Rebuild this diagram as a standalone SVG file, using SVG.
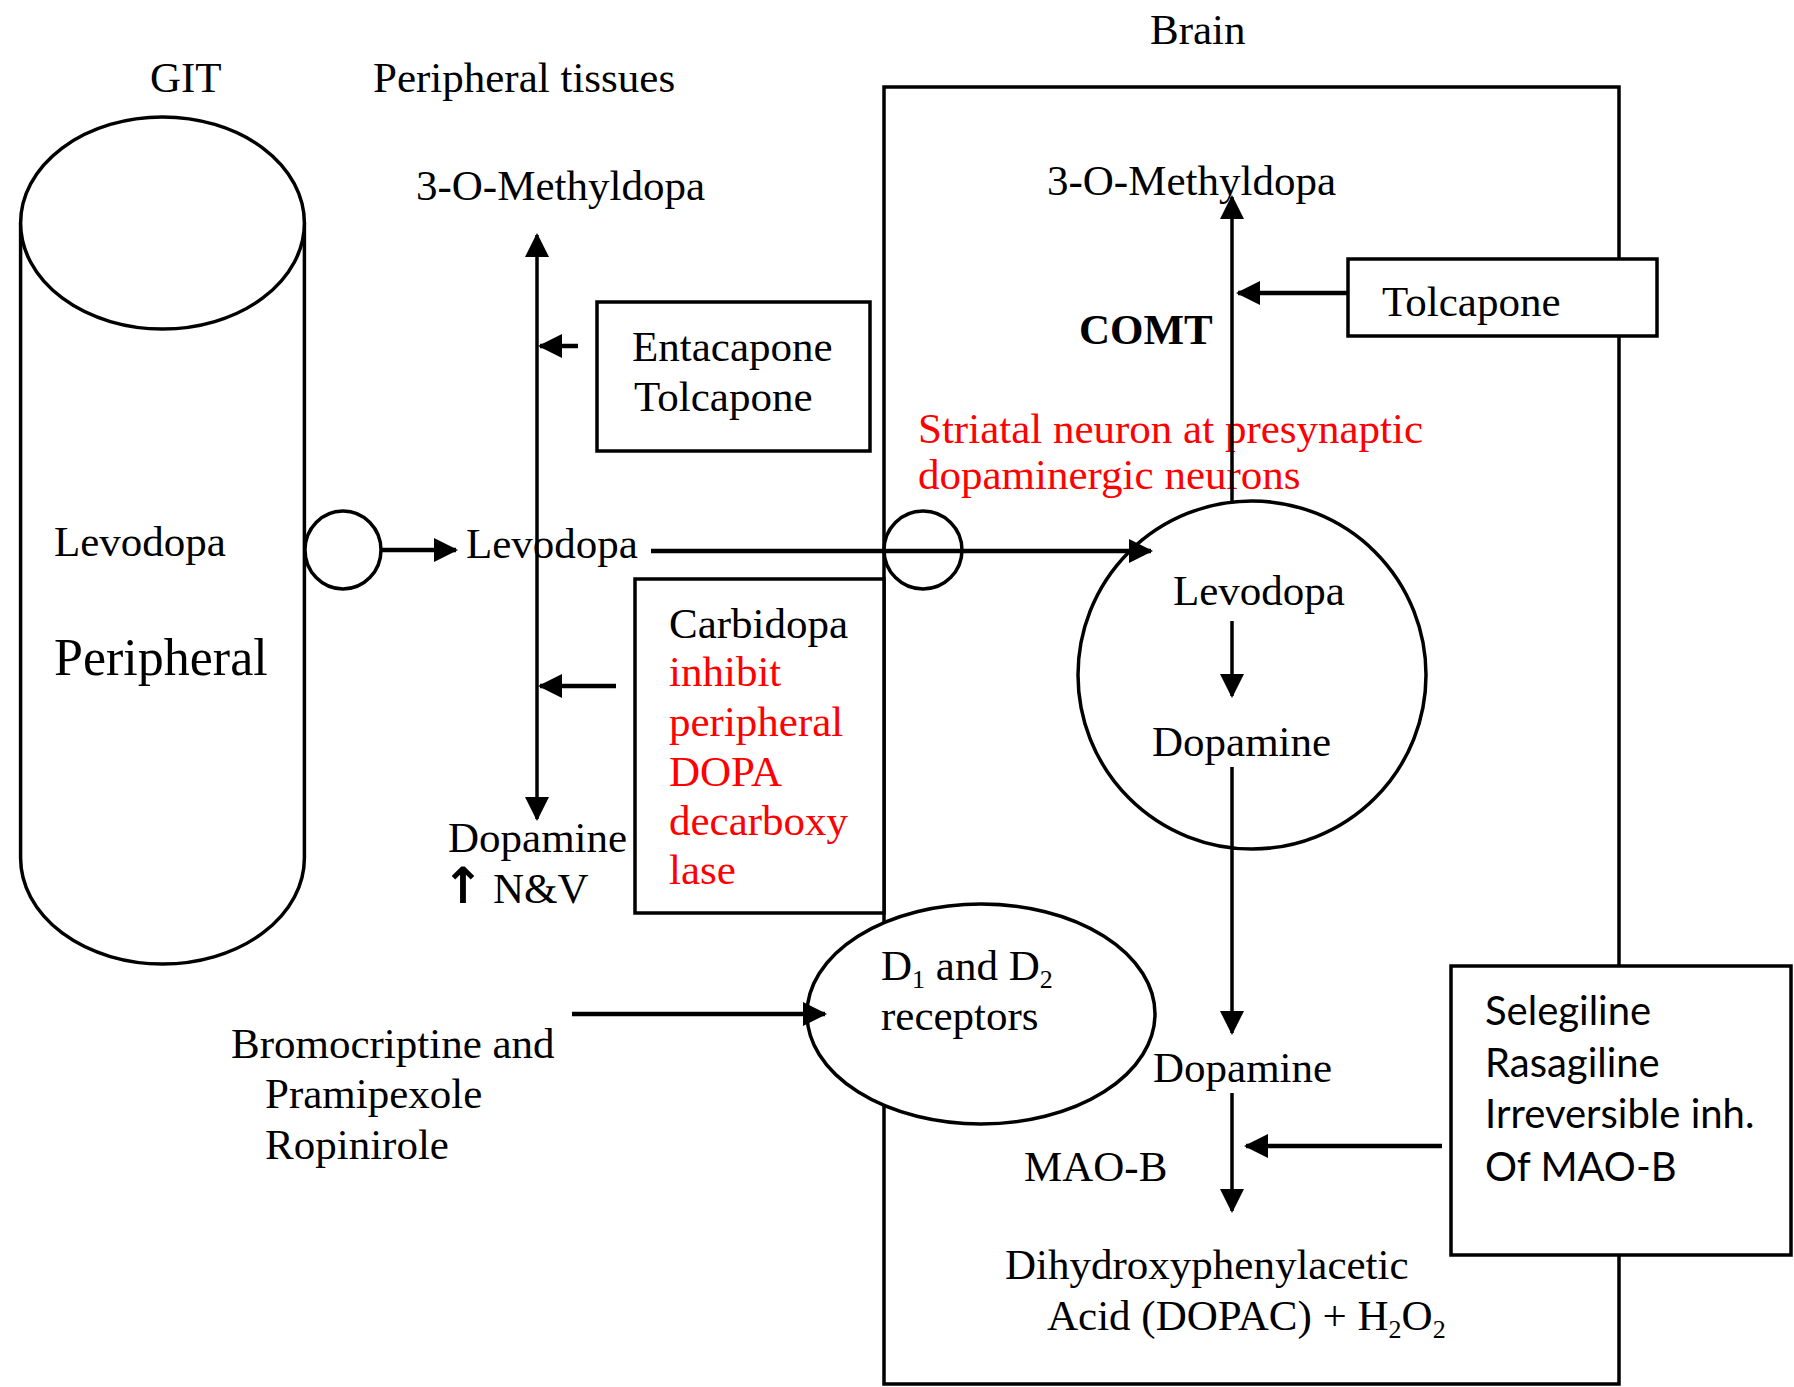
<svg xmlns="http://www.w3.org/2000/svg" width="1794" height="1387" viewBox="0 0 1794 1387">
<style>
text{font-family:"Liberation Serif","Times New Roman",serif;font-size:43px;fill:#000}
.red{fill:#ff0000}
.sans{font-family:Lato,"Liberation Sans",sans-serif;font-size:40px}
.b{font-weight:bold}
.shape{fill:#fff;stroke:#000;stroke-width:3.5}
.ln{stroke:#000;stroke-width:3.5;fill:none}
.thk{stroke:#000;stroke-width:4.5;fill:none}
</style>
<defs>
<marker id="ah" viewBox="0 0 24 24" refX="22" refY="12" markerWidth="24" markerHeight="24" markerUnits="userSpaceOnUse" orient="auto">
<path d="M0,0 L24,12 L0,24 z" fill="#000"/>
</marker>
</defs>
<rect width="1794" height="1387" fill="#fff"/>

<g id="titles">
<text x="150" y="92">GIT</text>
<text x="373" y="92">Peripheral tissues</text>
<text x="1150" y="44">Brain</text>
</g>

<g id="brain-box"><rect class="shape" x="884" y="87" width="735" height="1297"/></g>

<g id="git-cylinder">
<path class="shape" d="M20.6,223 L20.6,858 A141.9,106 0 0 0 304.4,858 L304.4,223"/>
<ellipse class="shape" cx="162.5" cy="223" rx="141.9" ry="106"/>
<text x="54" y="556">Levodopa</text>
<text x="54" y="675" style="font-size:52px">Peripheral</text>
</g>

<g id="git-circle"><ellipse class="shape" cx="343" cy="550" rx="38" ry="39"/></g>

<g id="periph-levodopa"><text x="466" y="558">Levodopa</text></g>
<g id="periph-methyldopa"><text x="416" y="200">3-O-Methyldopa</text></g>
<g id="periph-dopamine"><text x="448" y="852">Dopamine</text><text x="442" y="903"><tspan style="font-family:'DejaVu Sans',sans-serif;font-weight:bold;font-size:50px">↑</tspan><tspan x="493">N&amp;V</tspan></text></g>

<g id="comt-periph-box">
<rect class="shape" x="597" y="302" width="273" height="149"/>
<text x="632" y="361">Entacapone</text>
<text x="634" y="411">Tolcapone</text>
</g>

<g id="carbidopa-box">
<rect class="shape" x="635" y="579" width="249" height="334"/>
<text x="669" y="638">Carbidopa</text>
<text class="red" x="669" y="686">inhibit</text>
<text class="red" x="669" y="736">peripheral</text>
<text class="red" x="669" y="786">DOPA</text>
<text class="red" x="669" y="835">decarboxy</text>
<text class="red" x="669" y="884">lase</text>
</g>

<g id="bbb-circle"><circle class="shape" cx="923" cy="550" r="39"/></g>

<g id="brain-methyldopa"><text x="1047" y="195">3-O-Methyldopa</text></g>
<g id="comt-label"><text class="b" x="1079" y="344">COMT</text></g>

<g id="tolcapone-box">
<rect class="shape" x="1348" y="259" width="309" height="77"/>
<text x="1382" y="316">Tolcapone</text>
</g>

<g id="striatal-label">
<text class="red" x="918" y="443">Striatal neuron at presynaptic</text>
<text class="red" x="918" y="489">dopaminergic neurons</text>
</g>

<g id="neuron">
<circle class="shape" cx="1252" cy="675" r="174"/>
<text x="1173" y="605">Levodopa</text>
<text x="1152" y="756">Dopamine</text>
</g>

<g id="receptors">
<ellipse class="shape" cx="981" cy="1014" rx="174" ry="110"/>
<text x="881" y="980">D<tspan font-size="26" dy="8">1</tspan><tspan dy="-8"> and D</tspan><tspan font-size="26" dy="8">2</tspan></text>
<text x="881" y="1030">receptors</text>
</g>

<g id="agonists">
<text x="231" y="1058">Bromocriptine and</text>
<text x="265" y="1108">Pramipexole</text>
<text x="265" y="1159">Ropinirole</text>
</g>

<g id="brain-dopamine"><text x="1153" y="1082">Dopamine</text></g>
<g id="maob-label"><text x="1024" y="1181">MAO-B</text></g>

<g id="maob-box">
<rect class="shape" x="1451" y="966" width="340" height="289"/>
<text class="sans" x="1485" y="1025">Selegiline</text>
<text class="sans" x="1485" y="1077">Rasagiline</text>
<text class="sans" x="1485" y="1128">Irreversible inh.</text>
<text class="sans" x="1485" y="1181">Of MAO-B</text>
</g>

<g id="dopac">
<text x="1005" y="1279">Dihydroxyphenylacetic</text>
<text x="1047" y="1330">Acid (DOPAC) + H<tspan font-size="26" dy="8">2</tspan><tspan dy="-8">O</tspan><tspan font-size="26" dy="8">2</tspan></text>
</g>

<g id="connectors">
<line class="thk" x1="381" y1="550" x2="456" y2="550" marker-end="url(#ah)"/>
<line class="thk" x1="651" y1="551" x2="1151" y2="551" marker-end="url(#ah)"/>
<line class="ln" x1="537" y1="528" x2="537" y2="235" marker-end="url(#ah)"/>
<line class="ln" x1="537" y1="528" x2="537" y2="819" marker-end="url(#ah)"/>
<line class="thk" x1="578" y1="346" x2="540" y2="346" marker-end="url(#ah)"/>
<line class="thk" x1="616" y1="686" x2="540" y2="686" marker-end="url(#ah)"/>
<line class="ln" x1="1232" y1="503" x2="1232" y2="197" marker-end="url(#ah)"/>
<line class="thk" x1="1348" y1="293" x2="1238" y2="293" marker-end="url(#ah)"/>
<line class="ln" x1="1232" y1="621" x2="1232" y2="696" marker-end="url(#ah)"/>
<line class="ln" x1="1232" y1="767" x2="1232" y2="1033" marker-end="url(#ah)"/>
<line class="ln" x1="1232" y1="1093" x2="1232" y2="1211" marker-end="url(#ah)"/>
<line class="thk" x1="1442" y1="1146" x2="1246" y2="1146" marker-end="url(#ah)"/>
<line class="thk" x1="572" y1="1014" x2="825" y2="1014" marker-end="url(#ah)"/>
</g>
</svg>
